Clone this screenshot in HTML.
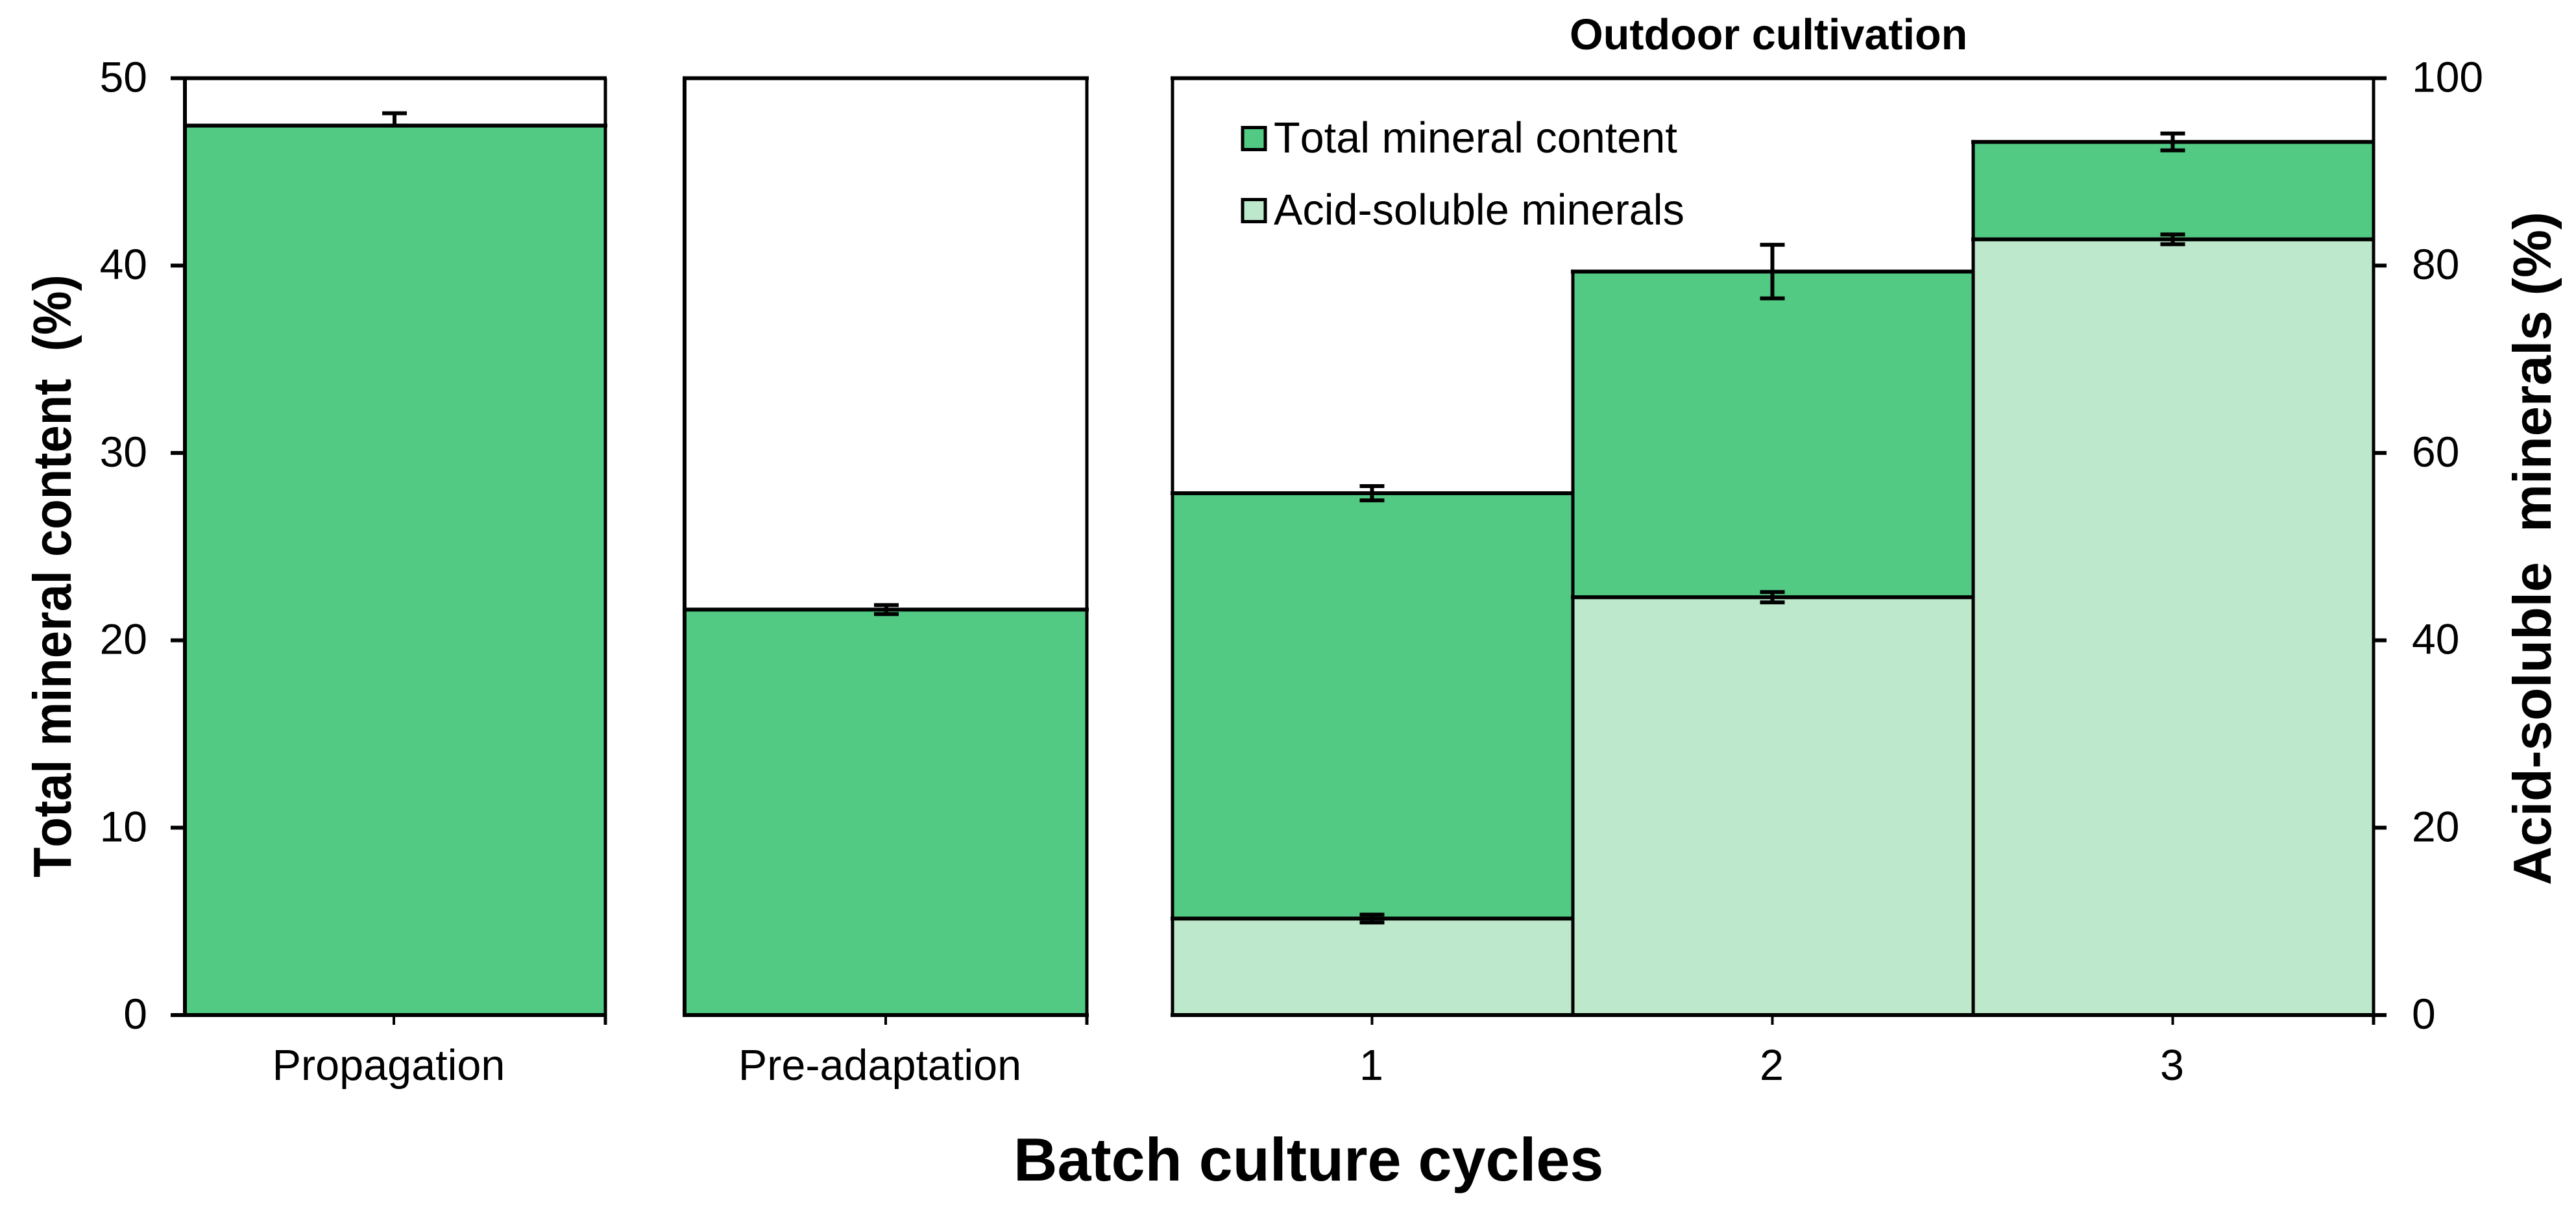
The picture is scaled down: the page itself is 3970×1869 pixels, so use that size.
<!DOCTYPE html>
<html lang="en">
<head>
<meta charset="utf-8">
<title>Mineral content chart</title>
<style>
html,body{margin:0;padding:0;background:#fff;}
svg{display:block;}
text{font-family:"Liberation Sans",Arial,sans-serif;fill:#000;white-space:pre;font-kerning:none;}
</style>
</head>
<body>
<svg id="chart" xmlns="http://www.w3.org/2000/svg" width="3970" height="1869" viewBox="0 0 3970 1869"></svg>
<script>
// ---- data ----
const leftTicks = [0, 10, 20, 30, 40, 50];
const rightTicks = [0, 20, 40, 60, 80, 100];
const singleCategories = ['Propagation', 'Pre-adaptation'];
const singleTotal = [47.47, 21.64];
const singleErrUp = [0.66, 0.24];
const singleErrDown = [0, 0.24];
const cycleCategories = ['1', '2', '3'];
const cycleTotal = [27.85, 39.68, 46.6];
const cycleTotalErr = [0.38, 1.43, 0.45];
const cycleAcid = [10.3, 44.6, 82.8];
const cycleAcidErr = [0.42, 0.55, 0.52];

// ---- layout and scales ----
const svg = document.getElementById('chart');
const NS = 'http://www.w3.org/2000/svg';
const GREEN = '#52CA84';
const LIGHT = '#BDE8CB';
const Y0 = 1564;
const Y_TOP = 120.5;
const PLOT_H = Y0 - Y_TOP;
function yLeft(v) { return Y0 - (v / 50) * PLOT_H; }
function yRight(v) { return Y0 - (v / 100) * PLOT_H; }
const P1 = { l: 285, r: 933, c: 607, textDx: -8 };
const P2 = { l: 1055, r: 1675, c: 1365, textDx: -9 };
const singlePanels = [P1, P2];
const P3 = { l: 1807, r: 3658 };
function xBand(i) { return P3.l + (P3.r - P3.l) * i / cycleCategories.length; }
function xCenter(i) { return (xBand(i) + xBand(i + 1)) / 2 - 1; }

function rect(x, y, w, h, fill) {
  const r = document.createElementNS(NS, 'rect');
  r.setAttribute('x', x);
  r.setAttribute('y', y);
  r.setAttribute('width', w);
  r.setAttribute('height', h);
  r.setAttribute('fill', fill);
  svg.appendChild(r);
  return r;
}
function text(str, x, y, size, anchor, bold) {
  const t = document.createElementNS(NS, 'text');
  t.setAttribute('x', x);
  t.setAttribute('y', y);
  t.setAttribute('font-size', size);
  t.setAttribute('text-anchor', anchor);
  if (bold) t.setAttribute('font-weight', 'bold');
  t.textContent = str;
  svg.appendChild(t);
  return t;
}
function hLine(x1, x2, y) { return rect(x1, y - 3, x2 - x1, 6, '#000'); }
function vLine(x, y1, y2, w) { return rect(x - w / 2, y1, w, y2 - y1, '#000'); }
function errorBar(cx, yUp, yDown) {
  const g = document.createElementNS(NS, 'g');
  svg.appendChild(g);
  const parts = [vLine(cx, yUp, yDown, 6), hLine(cx - 19, cx + 19, yUp)];
  if (yDown !== yUp) parts.push(hLine(cx - 19, cx + 19, yDown));
  parts.forEach(function (p) { g.appendChild(p); });
  return g;
}

// ---- single-value panels ----
singlePanels.forEach(function (p, i) {
  const y = yLeft(singleTotal[i]);
  const bar = rect(p.l, y, p.r - p.l, Y0 - y, GREEN);
  
  
  const top = hLine(p.l - 3, p.r + 3, y);
  
  
  const err = errorBar(p.c + 1, yLeft(singleTotal[i] + singleErrUp[i]), yLeft(singleTotal[i] - singleErrDown[i]));
  
  
  const frameL = vLine(p.l, Y_TOP, Y0, 6);
  
  
  const frameR = vLine(p.r, Y_TOP, Y0 + 15, 5);
  
  
  const tick = vLine(p.c, Y0, Y0 + 15, 4);
  
  
  const label = text(singleCategories[i], p.c + p.textDx, 1664, 66.5, 'middle', false);
  
  
});

// top and bottom lines of the two left panels
const p1Top = hLine(263, 935, Y_TOP);


const p2Top = hLine(1052, 1678, Y_TOP);


const p1Bottom = hLine(263, 935, Y0);


const p2Bottom = hLine(1052, 1678, Y0);



// ---- outdoor cultivation panel ----
const p3Top = hLine(P3.l - 3, 3678, Y_TOP);


cycleCategories.forEach(function (c, i) {
  const x0 = xBand(i);
  const x1 = xBand(i + 1);
  const yT = yLeft(cycleTotal[i]);
  const yA = yRight(cycleAcid[i]);
  const total = rect(x0, yT, x1 - x0, Y0 - yT, GREEN);
  
  
  const acid = rect(x0, yA, x1 - x0, Y0 - yA, LIGHT);
  
  
});
cycleCategories.forEach(function (c, i) {
  const x0 = xBand(i);
  const x1 = xBand(i + 1);
  const yT = yLeft(cycleTotal[i]);
  const yA = yRight(cycleAcid[i]);
  const topLine = hLine(x0 - 3, x1 + 2, yT);
  
  
  const acidLine = hLine(x0 - 3, x1 + 2, yA);
  
  
  const edge = vLine(x0, yT - 3, Y0, 5);
  
  
  const errT = errorBar(xCenter(i), yLeft(cycleTotal[i] + cycleTotalErr[i]), yLeft(cycleTotal[i] - cycleTotalErr[i]));
  
  
  const errA = errorBar(xCenter(i), yRight(cycleAcid[i] + cycleAcidErr[i]), yRight(cycleAcid[i] - cycleAcidErr[i]));
  
  
  const tick = vLine(xCenter(i), Y0, Y0 + 15, 4);
  
  
  const label = text(c, xCenter(i) - 1, 1664, 66.5, 'middle', false);
  
  
});
const p3Left = vLine(P3.l, Y_TOP, Y0, 5);


const p3Right = vLine(P3.r, Y_TOP, Y0 + 15, 5);


const p3Bottom = hLine(P3.l - 3, 3678, Y0);



// ---- y axes ----
leftTicks.forEach(function (v) {
  const y = yLeft(v);
  const t = hLine(263, 285, y);
  
  
  const l = text(String(v), 227, y + 21, 66, 'end', false);
  
  
});
rightTicks.forEach(function (v) {
  const y = yRight(v);
  const t = hLine(3658, 3678, y);
  
  
  const l = text(String(v), 3717, y + 21, 66, 'start', false);
  
  
});

// ---- titles ----
const leftTitle = text('Total mineral content  (%)', 0, 0, 76, 'start', true);
leftTitle.setAttribute('transform', 'translate(109,1352) rotate(-90) scale(1,1.09)');


const rightTitle = text('Acid-soluble  minerals (%)', 0, 0, 83, 'start', true);
rightTitle.setAttribute('transform', 'translate(3931,1364) rotate(-90)');


const xTitle = text('Batch culture cycles', 1562, 1819, 93.5, 'start', true);


const outdoorTitle = text('Outdoor cultivation', 2419, 76, 66.5, 'start', true);



// ---- legend ----
const legendFills = [GREEN, LIGHT];
const legendLabels = ['Total mineral content', 'Acid-soluble minerals'];
legendLabels.forEach(function (lab, i) {
  const dy = i * 111;
  const box = rect(1915, 196.5 + dy, 35, 34, legendFills[i]);
  box.setAttribute('stroke', '#000');
  box.setAttribute('stroke-width', 5);
  
  
  const t = text(lab, 1963, 235 + dy, 66.6, 'start', false);
  
  
});
</script>
</body>
</html>
